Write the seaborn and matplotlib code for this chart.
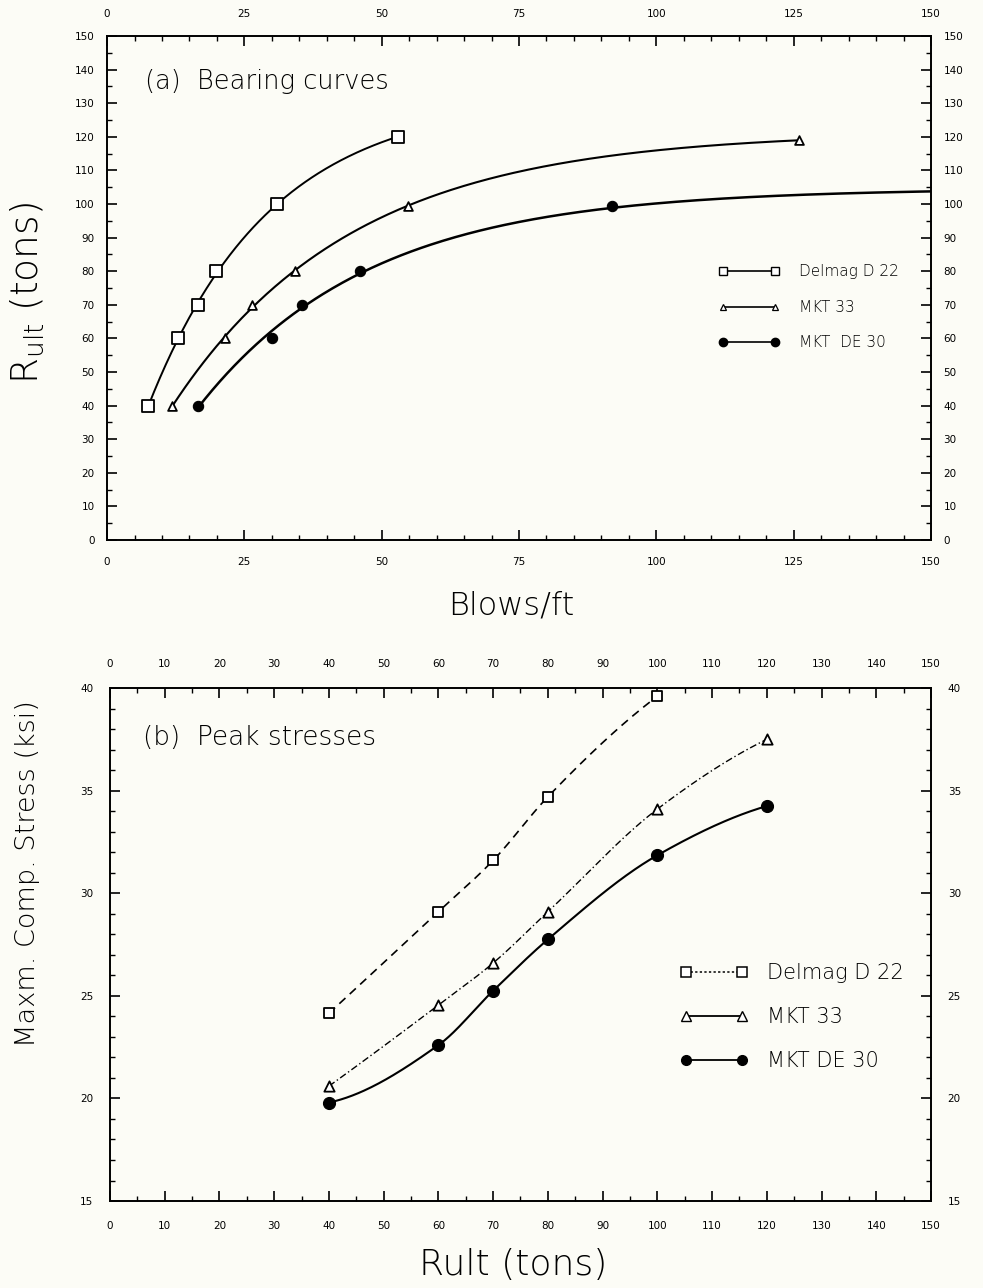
import numpy as np
import matplotlib
matplotlib.use("Agg")
import matplotlib.pyplot as plt
import seaborn as sns
from matplotlib.lines import Line2D
from matplotlib.ticker import MultipleLocator

# ---------------- data ----------------
# (a) Bearing curves : blows/ft vs Rult (tons)
series_names = ["Delmag D 22", "MKT 33", "MKT  DE 30"]
blows_delmag = [7.5, 13.0, 16.6, 19.8, 31.0, 52.9]
rult_delmag = [40, 60, 70, 80, 100, 120]
blows_mkt33 = [11.9, 21.5, 26.4, 34.2, 54.8, 125.9]
rult_mkt33 = [40, 60, 70, 80, 99.5, 119]
blows_de30 = [16.5, 30.1, 35.4, 46.1, 91.9]
rult_de30 = [40, 60, 70, 80, 99.5]
de30_curve_end = [150, 103.2]          # curve reaches right frame here (no marker)

# (b) Peak stresses : Rult (tons) vs max compressive stress (ksi)
series_names_b = ["Delmag D 22", "MKT 33", "MKT DE 30"]
rult_b_delmag = [40, 60, 70, 80, 100]
stress_delmag = [24.15, 29.1, 31.6, 34.7, 39.6]
rult_b_mkt33 = [40, 60, 70, 80, 100, 120]
stress_mkt33 = [20.6, 24.55, 26.6, 29.1, 34.1, 37.5]
rult_b_de30 = [40, 60, 70, 80, 100, 120]
stress_de30 = [19.8, 22.6, 25.25, 27.75, 31.85, 34.25]

# axis ticks
xticks_a = [0, 25, 50, 75, 100, 125, 150]
yticks_a = list(range(0, 151, 10))
xticks_b = list(range(0, 151, 10))
yticks_b = [15, 20, 25, 30, 35, 40]


# ---------------- helpers ----------------
def pchip(x, y, n=300):
    """Shape-preserving cubic curve through the read points (drawing only)."""
    x = np.asarray(x, float)
    y = np.asarray(y, float)
    h = np.diff(x)
    d = np.diff(y) / h
    m = np.zeros_like(y)
    for k in range(1, len(x) - 1):
        if d[k - 1] * d[k] > 0:
            w1 = 2 * h[k] + h[k - 1]
            w2 = h[k] + 2 * h[k - 1]
            m[k] = (w1 + w2) / (w1 / d[k - 1] + w2 / d[k])
    def end(h0, h1, d0, d1):
        v = ((2 * h0 + h1) * d0 - h0 * d1) / (h0 + h1)
        if np.sign(v) != np.sign(d0):
            v = 0.0
        elif np.sign(d0) != np.sign(d1) and abs(v) > abs(3 * d0):
            v = 3 * d0
        return v
    m[0] = end(h[0], h[1], d[0], d[1])
    m[-1] = end(h[-1], h[-2], d[-1], d[-2])
    xs = np.linspace(x[0], x[-1], n)
    idx = np.clip(np.searchsorted(x, xs) - 1, 0, len(x) - 2)
    t = (xs - x[idx]) / h[idx]
    h00 = 2 * t**3 - 3 * t**2 + 1
    h10 = t**3 - 2 * t**2 + t
    h01 = -2 * t**3 + 3 * t**2
    h11 = t**3 - t**2
    ys = h00 * y[idx] + h10 * h[idx] * m[idx] + h01 * y[idx + 1] + h11 * h[idx] * m[idx + 1]
    return xs, ys


def bearing_fit(x, y, n=300):
    """Least-squares saturating bearing curve R = A - B*exp(-k*blows)."""
    x = np.asarray(x, float)
    y = np.asarray(y, float)
    best = None
    for k in np.linspace(0.003, 0.2, 800):
        M = np.column_stack([np.ones_like(x), np.exp(-k * x)])
        coef, *_ = np.linalg.lstsq(M, y, rcond=None)
        sse = np.sum((M @ coef - y) ** 2)
        if best is None or sse < best[0]:
            best = (sse, k, coef)
    _, k, coef = best
    xs = np.linspace(x.min(), x.max(), n)
    return xs, coef[0] + coef[1] * np.exp(-k * xs)


def draw_line(ax, xs, ys, **kw):
    sns.lineplot(x=xs, y=ys, ax=ax, color="black", estimator=None, sort=False, **kw)


def draw_marks(ax, x, y, marker, filled, size):
    if filled:
        sns.scatterplot(x=x, y=y, ax=ax, marker=marker, s=size, color="black",
                        edgecolor="black", linewidth=0.8, zorder=4)
    else:
        sns.scatterplot(x=x, y=y, ax=ax, marker=marker, s=size, color="white",
                        edgecolor="black", linewidth=1.3, zorder=4)


def style_axes(ax, xlim, ylim, xmaj, xmin, ymaj, ymin, xpad, ypad):
    ax.set_xlim(*xlim)
    ax.set_ylim(*ylim)
    ax.xaxis.set_major_locator(MultipleLocator(xmaj))
    ax.xaxis.set_minor_locator(MultipleLocator(xmin))
    ax.yaxis.set_major_locator(MultipleLocator(ymaj))
    ax.yaxis.set_minor_locator(MultipleLocator(ymin))
    ax.tick_params(which="both", direction="in", top=True, right=True,
                   bottom=True, left=True, labeltop=True, labelright=True,
                   labelbottom=True, labelleft=True, color="black",
                   labelcolor="black")
    ax.tick_params(which="major", length=7, width=1.2, labelsize=7.5)
    ax.tick_params(which="minor", length=3.5, width=1.0)
    ax.tick_params(axis="x", which="major", pad=xpad)
    ax.tick_params(axis="y", which="major", pad=ypad)
    for sp in ax.spines.values():
        sp.set_visible(True)
        sp.set_linewidth(1.4)
        sp.set_color("black")
    ax.grid(False)
    ax.set_facecolor("none")


# ---------------- figure ----------------
sns.set_theme(style="ticks")
plt.rcParams["font.family"] = ["DejaVu Sans"]
plt.rcParams["text.color"] = "black"
plt.rcParams["axes.labelcolor"] = "black"
plt.rcParams["xtick.color"] = "black"
plt.rcParams["ytick.color"] = "black"

LIGHT = "light"
BG = "#fcfcf6"
fig = plt.figure(figsize=(9.83, 12.88), dpi=100, facecolor=BG)
ax1 = fig.add_axes([0.1089, 0.5807, 0.8382, 0.3913])
ax2 = fig.add_axes([0.1119, 0.0675, 0.8352, 0.3983])

# ---- (a) ----
draw_line(ax1, *bearing_fit(blows_delmag, rult_delmag), linewidth=1.4)
draw_line(ax1, *bearing_fit(blows_mkt33, rult_mkt33), linewidth=1.5)
draw_line(ax1, *bearing_fit(blows_de30 + [de30_curve_end[0]],
                            rult_de30 + [de30_curve_end[1]]), linewidth=1.8)
draw_marks(ax1, blows_delmag, rult_delmag, "s", False, 65)
draw_marks(ax1, blows_mkt33, rult_mkt33, "^", False, 40)
draw_marks(ax1, blows_de30, rult_de30, "o", True, 55)

style_axes(ax1, (0, 150), (0, 150), 25, 5, 10, 5, xpad=12, ypad=9)
ax1.set_xticks(xticks_a)
ax1.set_yticks(yticks_a)
ax1.set_xlabel("Blows/ft", fontsize=23, fontweight=LIGHT)
ax1.set_ylabel(r"R$_{\mathregular{ult}}$ (tons)", fontsize=27, fontweight=LIGHT)
ax1.xaxis.set_label_coords(0.490, -0.129)
ax1.xaxis.label.set_va("center")
ax1.yaxis.set_label_coords(-0.097, 0.49)
ax1.yaxis.label.set_va("center")
ax1.text(0.046, 0.909, "(a)  Bearing curves", transform=ax1.transAxes,
         fontsize=18.5, va="center", ha="left", fontweight=LIGHT)

h_a = [
    Line2D([], [], color="black", lw=1.2, marker="s", ms=5.5, mfc="white", mec="black", mew=1.0),
    Line2D([], [], color="black", lw=1.2, marker="^", ms=5, mfc="white", mec="black", mew=0.9),
    Line2D([], [], color="black", lw=1.2, marker="o", ms=6, mfc="black", mec="black"),
]
ax1.legend(h_a, series_names, numpoints=2, frameon=False, loc="center left",
           bbox_to_anchor=(0.7415, 0.4617), prop={"size": 11, "weight": LIGHT},
           handlelength=4.0, handletextpad=1.3, labelspacing=1.35,
           borderpad=0, borderaxespad=0)

# ---- (b) ----
draw_line(ax2, *pchip(rult_b_delmag, stress_delmag), linewidth=1.2, linestyle=(0, (5, 3.5)))
draw_line(ax2, *pchip(rult_b_mkt33, stress_mkt33), linewidth=1.0, linestyle=(0, (5, 2, 1, 2)))
draw_line(ax2, *pchip(rult_b_de30, stress_de30), linewidth=1.5)
draw_marks(ax2, rult_b_delmag, stress_delmag, "s", False, 60)
draw_marks(ax2, rult_b_mkt33, stress_mkt33, "^", False, 55)
draw_marks(ax2, rult_b_de30, stress_de30, "o", True, 75)

style_axes(ax2, (0, 150), (15, 40), 10, 5, 5, 1, xpad=14, ypad=12)
ax2.set_xticks(xticks_b)
ax2.set_yticks(yticks_b)
ax2.set_xlabel("Rult (tons)", fontsize=26, fontweight=LIGHT)
ax2.set_ylabel("Maxm. Comp. Stress (ksi)", fontsize=19.5, fontweight=LIGHT)
ax2.xaxis.set_label_coords(0.491, -0.1248)
ax2.xaxis.label.set_va("center")
ax2.yaxis.set_label_coords(-0.0999, 0.639)
ax2.yaxis.label.set_va("center")
ax2.text(0.040, 0.9045, "(b)  Peak stresses", transform=ax2.transAxes,
         fontsize=19, va="center", ha="left", fontweight=LIGHT)

h_b = [
    Line2D([], [], color="black", lw=1.1, ls=(0, (1.5, 1.5)), marker="s", ms=7, mfc="white", mec="black", mew=1.1),
    Line2D([], [], color="black", lw=1.3, marker="^", ms=6.5, mfc="white", mec="black", mew=1.0),
    Line2D([], [], color="black", lw=1.3, marker="o", ms=7, mfc="black", mec="black"),
]
ax2.legend(h_b, series_names_b, numpoints=2, frameon=False, loc="center left",
           bbox_to_anchor=(0.694, 0.359), prop={"size": 15, "weight": LIGHT},
           handlelength=3.3, handletextpad=0.9, labelspacing=1.15,
           borderpad=0, borderaxespad=0)

fig.savefig("out.png", dpi=100, facecolor=BG)
